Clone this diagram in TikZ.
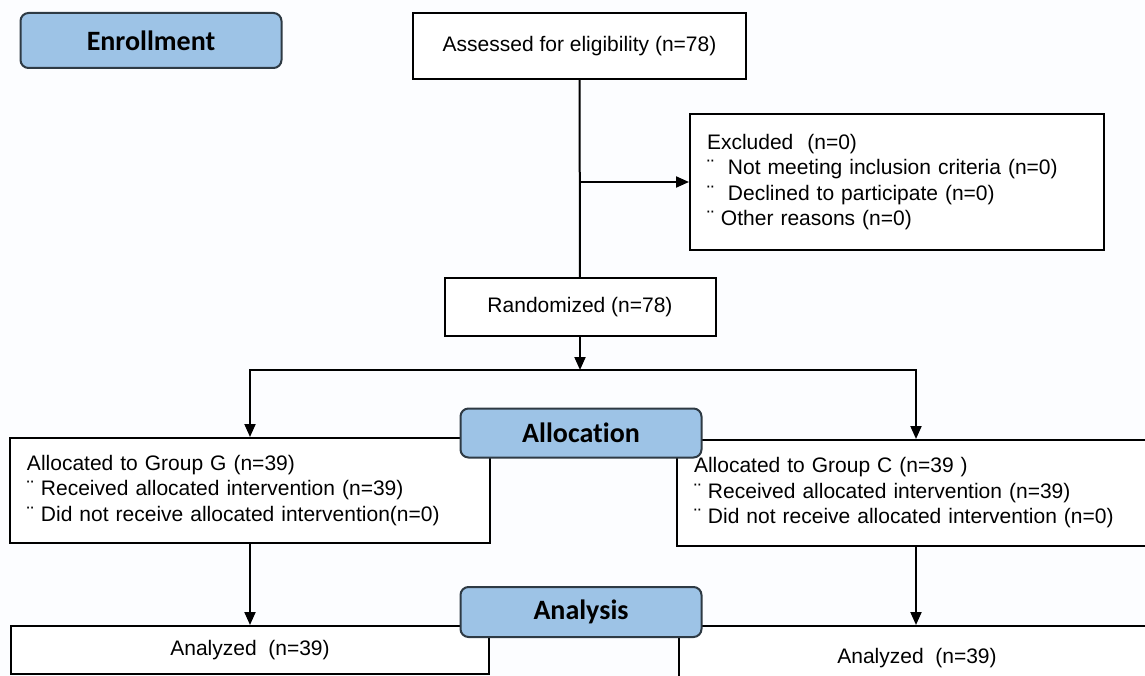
\documentclass[tikz,border=0pt]{standalone}
\usepackage{fontspec}
\setmainfont{Liberation Sans}
\newfontfamily\headfont[Ligatures=NoCommon]{Carlito}
\usetikzlibrary{arrows.meta,positioning}
\definecolor{stageblue}{HTML}{9DC3E6}
\definecolor{stageframe}{HTML}{2E3A44}
\definecolor{pagebg}{HTML}{FCFDFF}

\begin{document}
\begin{tikzpicture}[
    x=1pt, y=-1pt,
    >={Triangle[length=13pt,width=11pt]},
    every node/.style={font=\fontsize{21}{25.5}\selectfont},
    stagebox/.style={
        rectangle,
        rounded corners=8pt,
        draw=stageframe,
        fill=stageblue,
        line width=2pt,
        minimum width=241pt,
        minimum height=50pt,
        font=\headfont\bfseries\fontsize{28}{30}\selectfont
    },
    flowbox/.style={
        rectangle,
        draw=black,
        fill=white,
        line width=2pt,
        inner sep=0pt
    },
    listbox/.style={flowbox, align=left, inner xsep=17pt, inner ysep=0pt},
    arrow/.style={->, line width=2pt}
]
    \clip (0,0) rectangle (1145,676);
    \fill[pagebg] (0,0) rectangle (1145,676);

    % === ENROLLMENT ===
    \node[flowbox, minimum width=333pt, minimum height=66pt] (assess) at (579.5,46) {Assessed for eligibility (n=78)};
    \node[listbox, minimum width=414pt, minimum height=136pt, text width=380pt] (excl) at (897,182) {%
        Excluded\ \ (n=0)\\
        ¨\ \ Not meeting inclusion criteria (n=0)\\
        ¨\ \ Declined to participate (n=0)\\
        ¨ Other reasons (n=0)};
    \node[flowbox, minimum width=271pt, minimum height=58pt] (rand) at (580,307) {Randomized (n=78)};
    \coordinate (split) at (580,370);

    % === ALLOCATION ===
    \node[listbox, minimum width=480pt, minimum height=105pt, text width=446pt] (ggroup) at (250,490.5) {%
        Allocated to Group G (n=39)\\
        ¨ Received allocated intervention (n=39)\\
        ¨ Did not receive allocated intervention(n=0)};
    \node[listbox, minimum width=478pt, minimum height=106pt, text width=444pt] (cgroup) at (916,493) {%
        Allocated to Group C (n=39 )\\
        ¨ Received allocated intervention (n=39)\\
        ¨ Did not receive allocated intervention (n=0)};

    % === ANALYSIS ===
    \node[flowbox, minimum width=478pt, minimum height=48pt] (ganal) at (250,650) {Analyzed\ \ (n=39)};
    \node[flowbox, minimum width=476pt, minimum height=64pt] (canal) at (917,658) {Analyzed\ \ (n=39)};

    % connectors
    \draw[line width=2pt] (assess) -- (rand);
    \draw[arrow] (assess.south |- excl.west) -- (excl.west);
    \draw[arrow] (rand) -- (split);
    \draw[arrow] (split) -| (ggroup.north);
    \draw[arrow] (split) -| (cgroup.north);
    \draw[arrow] (ggroup) -- (ganal);
    \draw[arrow] (cgroup.south) -- (canal.north -| cgroup.south);

    % stage labels
    \node[stagebox, minimum width=261pt, minimum height=55pt] (enroll) at (151,40.5) {Enrollment};
    \node[stagebox, minimum height=49pt] (alloc) at (581,433) {Allocation};
    \node[stagebox] (analysis) at (581,612) {Analysis};
\end{tikzpicture}
\end{document}
